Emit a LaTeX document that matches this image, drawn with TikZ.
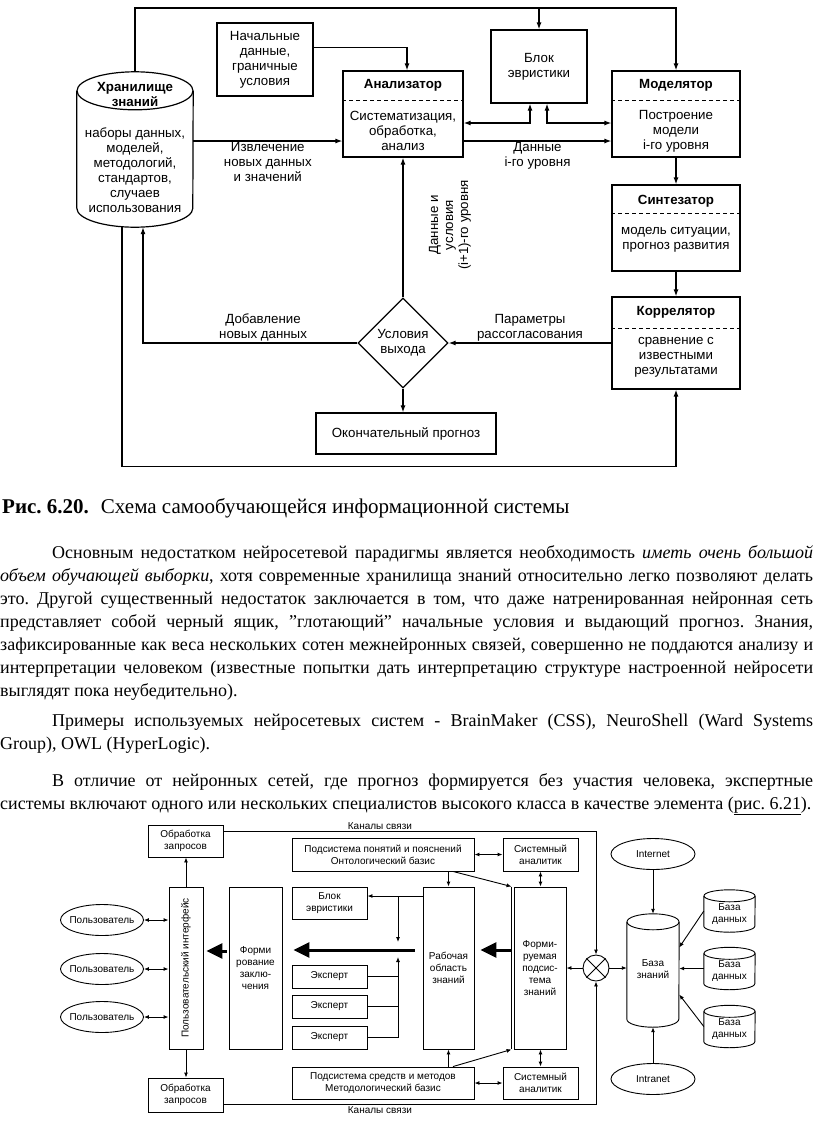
\documentclass[tikz,border=0pt]{standalone}
\usepackage{fontspec}
\setmainfont{Liberation Serif}
\newfontfamily\diagfont{Liberation Sans}
\usetikzlibrary{arrows.meta,shapes.geometric}
\frenchspacing

\begin{document}
\begin{tikzpicture}
  [
    x                = 1pt,
    y                = -1pt,
    box/.style       = {draw, line width=1.2pt, inner sep=0pt},
    lbl/.style       = {font=\diagfont\fontsize{13.3}{15}\selectfont, align=center, inner sep=1pt},
    ttl/.style       = {font=\diagfont\bfseries\fontsize{13.3}{15}\selectfont, align=center},
    arr/.style       = {line width=1.2pt, -{Latex[length=7pt,width=5pt]}},
    arrr/.style      = {line width=1.2pt, {Latex[length=7pt,width=5pt]}-{Latex[length=7pt,width=5pt]}},
    sep/.style       = {line width=1pt, dash pattern=on 4pt off 3pt},
    sfont/.style     = {font=\diagfont\fontsize{10}{12}\selectfont, align=center, inner sep=0pt},
    sbox/.style      = {draw, line width=0.9pt, sfont},
    selli/.style     = {draw, ellipse, line width=0.9pt, minimum width=84, minimum height=31, inner sep=0pt},
    sarr/.style      = {line width=0.9pt, -{Latex[length=5pt,width=4pt]}},
    sarrr/.style     = {line width=0.9pt, {Latex[length=5pt,width=4pt]}-{Latex[length=5pt,width=4pt]}},
    fat/.style       = {line width=3pt, -{Triangle[length=16pt,width=15pt]}},
    body/.style      = {font=\fontsize{18}{23}\selectfont, text width=813pt, align=justify, inner sep=0pt, anchor=base west}
  ]
  \path[use as bounding box, fill=white] (0,0) rectangle (816,1141);

  % self-learning system
  \node[minimum width=116, minimum height=155, inner sep=0pt] (hran) at (135,149.5) {};
  \draw[line width=1.2pt] ([yshift=-19pt]hran.north) ellipse [x radius=58pt, y radius=19pt];
  \draw[line width=1.2pt] ([yshift=-19pt]hran.north west) -- ([yshift=19pt]hran.south west)
    arc [start angle=180, end angle=360, x radius=58pt, y radius=19pt] -- ([yshift=-19pt]hran.north east);
  \node[ttl] at (135,94) {Хранилище\\знаний};
  \node[lbl] at (135,170) {наборы данных,\\моделей,\\методологий,\\стандартов,\\случаев\\использования};

  \node[box, lbl, minimum width=96, minimum height=73] (nach) at (265,59.5) {Начальные\\данные,\\граничные\\условия};
  \node[box, lbl, minimum width=96, minimum height=73] (blok) at (539,66.5) {Блок\\эвристики};

  \node[box, minimum width=120, minimum height=86] (anal) at (403,114) {};
  \node[ttl] at (403,85) {Анализатор};
  \draw[sep] (anal.west |- 0,100) -- (anal.east |- 0,100);
  \node[lbl] at (403,131) {Систематизация,\\обработка,\\анализ};

  \node[box, minimum width=128, minimum height=86] (model) at (676,114) {};
  \node[ttl] at (676,85) {Моделятор};
  \draw[sep] (model.west |- 0,100) -- (model.east |- 0,100);
  \node[lbl] at (676,131) {Построение\\модели\\i-го уровня};

  \node[box, minimum width=128, minimum height=86] (sint) at (676,228) {};
  \node[ttl] at (676,201) {Синтезатор};
  \draw[sep] (sint.west |- 0,213) -- (sint.east |- 0,213);
  \node[lbl] at (676,240) {модель ситуации,\\прогноз развития};

  \node[box, minimum width=128, minimum height=92] (korr) at (676,343) {};
  \node[ttl] at (676,312) {Коррелятор};
  \draw[sep] (korr.west |- 0,328) -- (korr.east |- 0,328);
  \node[lbl] at (676,357) {сравнение с\\известными\\результатами};

  \node[draw, diamond, aspect=1, line width=1.2pt, minimum width=90, minimum height=90, lbl, inner sep=0pt] (usl) at (403,343) {Условия\\выхода};
  \node[box, lbl, minimum width=180, minimum height=41] (okon) at (406,433.5) {Окончательный прогноз};

  \draw[arr] (hran.north) -- (hran.north |- 0,8) -| (model.north);
  \draw[arr] (blok.north |- 0,8) -- (blok.north);
  \draw[arr] ([yshift=12pt]nach.east) -| ([xshift=4pt]anal.north);
  \draw[arr] ([yshift=8.5pt]hran.east) -- ([yshift=8.5pt]hran.east -| anal.west)
    node[midway, below, lbl] {Извлечение\\новых данных\\и значений};
  \draw[arrr] ([yshift=-9pt]anal.east) -| ([xshift=-9pt]blok.south);
  \draw[arrr] ([xshift=8pt]blok.south) |- ([yshift=-9pt]model.west);
  \draw[arr] ([yshift=-27pt]anal.east) -- ([yshift=-27pt]model.west)
    node[midway, below, lbl] {Данные\\i-го уровня};
  \draw[arr] (model.south) -- (sint.north);
  \draw[arr] (sint.south) -- (korr.north);
  \draw[arr] (korr.west) -- (usl.east)
    node[midway, above, lbl] {Параметры\\рассогласования};
  \draw[arr] (usl.west) -| ([xshift=8pt]hran.south)
    node[pos=0.22, above, lbl] {Добавление\\новых данных};
  \draw[arr] (usl.north) -- (anal.south);
  \node[lbl, rotate=90] at (450,225) {Данные и\\условия\\(i+1)-го уровня};
  \draw[arr] (usl.south) -- (usl.south |- okon.north);
  \draw[arr] ([xshift=-13pt]hran.south) |- ([yshift=-12pt]okon.south) -| (korr.south);

  % text
  \node[anchor=base west, inner sep=0pt, font=\fontsize{21}{24}\selectfont] (cap) at (2,513)
    {\textbf{Рис. 6.20.}\hspace{12pt}Схема самообучающейся информационной системы};
  \node[body] (par1) at (0,558) {\hspace*{52pt}Основным недостатком нейросетевой парадигмы является необходимость \textit{иметь очень большой}\linebreak
    \textit{объем обучающей выборки}, хотя современные хранилища знаний относительно легко позволяют делать\linebreak
    это. Другой существенный недостаток заключается в том, что даже натренированная нейронная сеть\linebreak
    представляет собой черный ящик, \char34глотающий\char34{} начальные условия и выдающий прогноз. Знания,\linebreak
    зафиксированные как веса нескольких сотен межнейронных связей, совершенно не поддаются анализу и\linebreak
    интерпретации человеком (известные попытки дать интерпретацию структуре настроенной нейросети\linebreak
    выглядят пока неубедительно).};
  \node[body] (par2) at (0,726) {\hspace*{52pt}Примеры используемых нейросетевых систем - BrainMaker (CSS), NeuroShell (Ward Systems\linebreak
    Group), OWL (HyperLogic).};
  \node[body] (par3) at (0,786) {\hspace*{52pt}В отличие от нейронных сетей, где прогноз формируется без участия человека, экспертные\linebreak
    системы включают одного или нескольких специалистов высокого класса в качестве элемента (\underline{рис. 6.21}).};

  % expert system
  \node[sbox, minimum width=75, minimum height=32] (obrT) at (185.5,841) {Обработка\\запросов};
  \node[sbox, minimum width=75, minimum height=34] (obrB) at (185.5,1095) {Обработка\\запросов};
  \node[sbox, minimum width=34, minimum height=162] (iface) at (186,968) {};
  \node[sfont, rotate=90] at (iface) {Пользовательский интерфейс};
  \node[selli, minimum width=83, label={[sfont]center:Пользователь}] (polz1) at (102,920) {};
  \node[selli, minimum width=83, label={[sfont]center:Пользователь}] (polz2) at (102,969) {};
  \node[selli, minimum width=83, label={[sfont]center:Пользователь}] (polz3) at (102,1017) {};
  \node[sbox, minimum width=53, minimum height=162] (form) at (255.5,968) {Форми\\рование\\заклю-\\чения};

  \node[sbox, minimum width=182, minimum height=33] (podP) at (383,854.5) {Подсистема понятий и пояснений\\Онтологический базис};
  \node[sbox, minimum width=75, minimum height=33] (sysT) at (540.5,854.5) {Системный\\аналитик};
  \node[sbox, minimum width=75, minimum height=32] (blokB) at (329.5,903) {Блок\\эвристики};
  \node[sbox, minimum width=75, minimum height=23] (ex1) at (329.5,976.5) {Эксперт};
  \node[sbox, minimum width=75, minimum height=23] (ex2) at (329.5,1006.5) {Эксперт};
  \node[sbox, minimum width=75, minimum height=23] (ex3) at (329.5,1037.5) {Эксперт};
  \node[sbox, minimum width=51, minimum height=162] (rab) at (448.5,968) {Рабочая\\область\\знаний};
  \node[sbox, minimum width=52, minimum height=162] (formS) at (540,968) {Форми-\\руемая\\подсис-\\тема\\знаний};
  \node[sbox, minimum width=182, minimum height=32] (podM) at (383,1083) {Подсистема средств и методов\\Методологический базис};
  \node[sbox, minimum width=75, minimum height=32] (sysB) at (540.5,1083) {Системный\\аналитик};

  \node[draw, circle, line width=0.9pt, minimum size=26, inner sep=0pt] (krest) at (596,968) {};
  \draw[line width=0.9pt] (krest.45) -- (krest.225) (krest.135) -- (krest.315);

  \node[minimum width=52, minimum height=113, inner sep=0pt] (bz) at (653,970.5) {};
  \draw[line width=0.9pt] ([yshift=-8pt]bz.north) ellipse [x radius=26pt, y radius=8pt];
  \draw[line width=0.9pt] ([yshift=-8pt]bz.north west) -- ([yshift=8pt]bz.south west)
    arc [start angle=180, end angle=360, x radius=26pt, y radius=8pt] -- ([yshift=-8pt]bz.north east);
  \node[sfont] at (653,969) {База\\знаний};
  \node[selli, label={[sfont]center:Internet}] (inet) at (653,854) {};
  \node[selli, label={[sfont]center:Intranet}] (intra) at (653,1079) {};

  \foreach \n/\y in {bd1/911, bd2/968.5, bd3/1026.5} {
    \node[minimum width=51, minimum height=42, inner sep=0pt] (\n) at (729.5,\y) {};
    \draw[line width=0.9pt] ([yshift=-6pt]\n.north) ellipse [x radius=25.5pt, y radius=6pt];
    \draw[line width=0.9pt] ([yshift=-6pt]\n.north west) -- ([yshift=6pt]\n.south west)
      arc [start angle=180, end angle=360, x radius=25.5pt, y radius=6pt] -- ([yshift=-6pt]\n.north east);
    \node[sfont] at ([yshift=-3pt]\n.center) {База\\данных};
  }

  \coordinate (jt) at (398,896);
  \coordinate (jm) at (398,942);
  \coordinate (jb) at (398,957);

  \draw[sarr] ([yshift=10pt]obrT.east) -| (krest.north)
    node[pos=0.21, above=1pt, sfont] {Каналы связи};
  \draw[sarr] ([yshift=-9pt]obrB.east) -| (krest.south)
    node[pos=0.21, below=2pt, sfont] {Каналы связи};
  \draw[sarr] (iface.north) -- (iface.north |- obrT.south);
  \draw[sarr] (iface.south) -- (iface.south |- obrB.north);
  \foreach \i in {1,2,3} \draw[sarrr] (polz\i.east) -- (polz\i.east -| iface.west);
  \draw[fat, shorten <=2pt, shorten >=3pt] ([yshift=17pt]form.west) -- ([yshift=17pt]iface.east);
  \draw[fat, shorten <=8pt, shorten >=11pt] ([yshift=18pt]rab.west) -- ([yshift=18pt]form.east);
  \draw[fat, shorten <=3pt, shorten >=6pt] ([yshift=18pt]formS.west) -- ([yshift=18pt]rab.east);

  \draw[sarrr] (podP.east) -- (sysT.west);
  \draw[sarrr] (podM.east) -- (sysB.west);
  \draw[sarrr] (sysT.south) -- (sysT.south |- formS.north);
  \draw[sarrr] (sysB.north) -- (sysB.north |- formS.south);
  \draw[sarr] (podP.south -| rab.north) -- (rab.north);
  \draw[sarr] (podM.north -| rab.south) -- (rab.south);
  \draw[sarr] ([xshift=70pt]podP.south) -- ([xshift=-2pt]formS.north west);
  \draw[line width=0.9pt] ([xshift=-2pt]formS.north west) -- ([xshift=-2pt]formS.south west);
  \draw[sarr] ([xshift=70pt]podM.north) -- ([xshift=-2pt]formS.south west);

  \draw[sarr] (jt -| rab.west) -- (blokB.east |- jt);
  \draw[sarr] (jt) -- (jm);
  \foreach \i in {1,2,3} \draw[line width=0.9pt] (ex\i.east) -- (ex\i.east -| jb);
  \draw[sarr] (ex3.east -| jb) -- (jb);

  \draw[sarr] (krest.west) -- (krest.west -| formS.east);
  \draw[sarr] (krest.east) -- (krest.east -| bz.west);
  \draw[sarr] (inet.south) -- (bz.north);
  \draw[sarr] (intra.north) -- (bz.south);
  \draw[sarr] (bd1.west) -- ([yshift=23pt]bz.east);
  \draw[sarr] (bd2.west) -- (bd2.west -| bz.east);
  \draw[sarr] (bd3.west) -- ([yshift=-24pt]bz.east);
\end{tikzpicture}
\end{document}
